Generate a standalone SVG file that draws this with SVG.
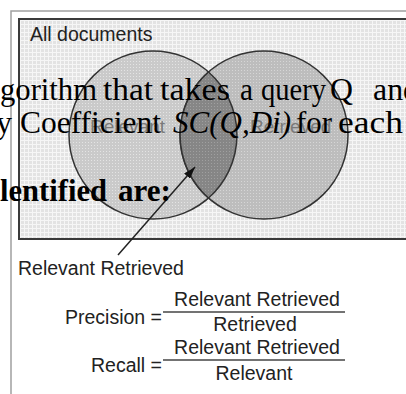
<svg xmlns="http://www.w3.org/2000/svg" width="406" height="394" viewBox="0 0 406 394">
  <defs>
    <pattern id="bgPat" width="4" height="4" patternUnits="userSpaceOnUse">
      <rect width="4" height="4" fill="#e3e3e3"/>
      <path d="M0 0.5H4M0.5 0V4" stroke="#f6f6f6" stroke-width="1"/>
    </pattern>
    <pattern id="relPat" width="3" height="3" patternUnits="userSpaceOnUse">
      <rect width="3" height="3" fill="#cacaca"/>
      <rect x="1" y="1" width="1" height="1" fill="#e4e4e4"/>
    </pattern>
    <pattern id="retPat" width="3" height="3" patternUnits="userSpaceOnUse">
      <rect width="3" height="3" fill="#bdbdbd"/>
      <rect x="1" y="1" width="1" height="1" fill="#d6d6d6"/>
    </pattern>
    <pattern id="intPat" width="3" height="3" patternUnits="userSpaceOnUse">
      <rect width="3" height="3" fill="#868686"/>
      <rect x="1" y="1" width="1" height="1" fill="#a0a0a0"/>
    </pattern>
    <marker id="arrow" viewBox="0 0 12 8" refX="12" refY="4" markerWidth="12" markerHeight="8" markerUnits="userSpaceOnUse" orient="auto">
      <path d="M0,0 L12,4 L0,8 z" fill="#111"/>
    </marker>
  </defs>
  <style>
    .sans { font-family: "Liberation Sans", Arial, sans-serif; font-size: 19.5px; fill: #222; }
    .faint { font-family: "Liberation Sans", Arial, sans-serif; font-size: 19px; fill: #7a7a7a; }
    .serif { font-family: "Liberation Serif", "Times New Roman", serif; font-size: 31px; fill: #000; }
    .circle { stroke: #333; stroke-width: 1.5; }
    .frac { stroke: #444; stroke-width: 1.3; }
  </style>

  <rect width="406" height="394" fill="#fff"/>

  <g id="frame">
    <path d="M11 394V11H406" fill="none" stroke="#a0a0a0" stroke-width="1.5"/>
  </g>

  <g id="all-documents">
    <rect x="19" y="19" width="400" height="220" fill="url(#bgPat)" stroke="#3a3a3a" stroke-width="2"/>
    <text class="sans" x="30" y="41">All documents</text>
  </g>

  <g id="relevant">
    <circle class="circle" cx="153" cy="135" r="84" fill="url(#relPat)"/>
  </g>
  <g id="retrieved">
    <circle class="circle" cx="264" cy="135" r="84" fill="url(#retPat)"/>
  </g>
  <g id="relevant-retrieved">
    <path class="circle" d="M208.5,72 A84,84 0 0,1 208.5,198 A84,84 0 0,1 208.5,72 Z" fill="url(#intPat)"/>
  </g>
  <g id="circle-labels">
    <text class="faint" x="90" y="133">Relevant</text>
    <text class="faint" x="250" y="133">Retrieved</text>
  </g>

  <g id="connectors">
    <line x1="118" y1="255" x2="195" y2="167" stroke="#222" stroke-width="1.5" marker-end="url(#arrow)"/>
  </g>

  <g id="label-relevant-retrieved">
    <text class="sans" x="18" y="275">Relevant Retrieved</text>
  </g>

  <g id="precision">
    <text class="sans" x="162" y="324" text-anchor="end">Precision =</text>
    <line class="frac" x1="163" y1="312" x2="345" y2="312"/>
    <text class="sans" x="257" y="306" text-anchor="middle">Relevant Retrieved</text>
    <text class="sans" x="255" y="331" text-anchor="middle">Retrieved</text>
  </g>

  <g id="recall">
    <text class="sans" x="162" y="372" text-anchor="end">Recall =</text>
    <line class="frac" x1="163" y1="360" x2="345" y2="360"/>
    <text class="sans" x="257" y="354" text-anchor="middle">Relevant Retrieved</text>
    <text class="sans" x="254" y="380" text-anchor="middle">Relevant</text>
  </g>

  <g id="overlay-text">
    <text class="serif" y="100" lengthAdjust="spacingAndGlyphs"><tspan x="0" textLength="97" lengthAdjust="spacingAndGlyphs">gorithm</tspan><tspan x="103" textLength="50" lengthAdjust="spacingAndGlyphs">that</tspan><tspan x="160" textLength="70" lengthAdjust="spacingAndGlyphs">takes</tspan><tspan x="240" textLength="13" lengthAdjust="spacingAndGlyphs">a</tspan><tspan x="261" textLength="65" lengthAdjust="spacingAndGlyphs">query</tspan><tspan x="330" textLength="23" lengthAdjust="spacingAndGlyphs">Q</tspan><tspan x="373" textLength="46" lengthAdjust="spacingAndGlyphs">and</tspan></text>
    <text class="serif" y="133"><tspan x="-4" textLength="16" lengthAdjust="spacingAndGlyphs">y</tspan><tspan x="20" textLength="141" lengthAdjust="spacingAndGlyphs">Coefficient</tspan><tspan x="173" font-style="italic" textLength="118" lengthAdjust="spacingAndGlyphs">SC(Q,Di)</tspan><tspan x="296" textLength="36" lengthAdjust="spacingAndGlyphs">for</tspan><tspan x="338" textLength="65" lengthAdjust="spacingAndGlyphs">each</tspan></text>
    <text class="serif" y="201" font-weight="bold"><tspan x="0" textLength="107" lengthAdjust="spacingAndGlyphs">lentified</tspan><tspan x="118" textLength="53" lengthAdjust="spacingAndGlyphs">are:</tspan></text>
  </g>
</svg>
